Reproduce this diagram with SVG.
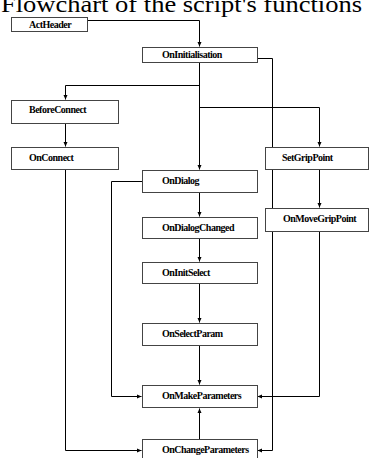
<svg xmlns="http://www.w3.org/2000/svg" width="369" height="458" viewBox="0 0 369 458">
<style>
.box{fill:#fff;stroke:#444;stroke-width:1}
.lbl{font-family:"Liberation Serif","Times New Roman",serif;font-weight:bold;font-size:10px;fill:#000;letter-spacing:-0.5px}
.title{font-family:"Liberation Serif","Times New Roman",serif;font-size:24px;fill:#000}
.ln{fill:none;stroke:#000;stroke-width:1}
</style>
<defs>
<marker id="ah" markerWidth="5" markerHeight="5" refX="4.5" refY="2.5" orient="auto" markerUnits="userSpaceOnUse">
<path d="M0,0.5 L4.5,2.5 L0,4.5 Z" fill="#000"/>
</marker>
</defs>
<rect width="369" height="458" fill="#fff"/>
<text class="title" x="1" y="12" textLength="361" lengthAdjust="spacingAndGlyphs">Flowchart of the script's functions</text>
<g id="connectors">
<path class="ln" d="M88,20.5 H199.5 V46.5" marker-end="url(#ah)"/>
<path class="ln" d="M257,58.5 H272.5 V450.5 H257.5" marker-end="url(#ah)"/>
<path class="ln" d="M199.5,62 V169.5" marker-end="url(#ah)"/>
<path class="ln" d="M199.5,85.5 H65.5 V99.5" marker-end="url(#ah)"/>
<path class="ln" d="M199.5,107.5 H319.5 V146.5" marker-end="url(#ah)"/>
<path class="ln" d="M65.5,124 V146.5" marker-end="url(#ah)"/>
<path class="ln" d="M65.5,170 V450.5 H141.5" marker-end="url(#ah)"/>
<path class="ln" d="M142,181.5 H111.5 V396.5 H141.5" marker-end="url(#ah)"/>
<path class="ln" d="M199.5,193 V216.5" marker-end="url(#ah)"/>
<path class="ln" d="M199.5,239 V261.5" marker-end="url(#ah)"/>
<path class="ln" d="M199.5,284 V322.5" marker-end="url(#ah)"/>
<path class="ln" d="M199.5,346 V384.5" marker-end="url(#ah)"/>
<path class="ln" d="M199.5,439 V408.5" marker-end="url(#ah)"/>
<path class="ln" d="M319.5,170 V207.5" marker-end="url(#ah)"/>
<path class="ln" d="M319.5,232 V396.5 H257.5" marker-end="url(#ah)"/>
</g>
<g id="ActHeader"><rect class="box" x="11.5" y="17.5" width="76" height="14"/><text class="lbl" x="29" y="28">ActHeader</text></g>
<g id="OnInitialisation"><rect class="box" x="142.5" y="47.5" width="115" height="15"/><text class="lbl" x="162" y="58">OnInitialisation</text></g>
<g id="BeforeConnect"><rect class="box" x="11.5" y="100.5" width="107" height="23"/><text class="lbl" x="29" y="113">BeforeConnect</text></g>
<g id="OnConnect"><rect class="box" x="11.5" y="147.5" width="107" height="22"/><text class="lbl" x="29" y="161">OnConnect</text></g>
<g id="SetGripPoint"><rect class="box" x="265.5" y="147.5" width="103" height="22"/><text class="lbl" x="282" y="161">SetGripPoint</text></g>
<g id="OnDialog"><rect class="box" x="142.5" y="170.5" width="115" height="22"/><text class="lbl" x="162" y="184">OnDialog</text></g>
<g id="OnMoveGripPoint"><rect class="box" x="265.5" y="208.5" width="103" height="23"/><text class="lbl" x="283" y="222">OnMoveGripPoint</text></g>
<g id="OnDialogChanged"><rect class="box" x="142.5" y="217.5" width="115" height="21"/><text class="lbl" x="162" y="231">OnDialogChanged</text></g>
<g id="OnInitSelect"><rect class="box" x="142.5" y="262.5" width="115" height="21"/><text class="lbl" x="162" y="276">OnInitSelect</text></g>
<g id="OnSelectParam"><rect class="box" x="142.5" y="323.5" width="115" height="22"/><text class="lbl" x="162" y="337">OnSelectParam</text></g>
<g id="OnMakeParameters"><rect class="box" x="142.5" y="385.5" width="115" height="22"/><text class="lbl" x="162" y="399">OnMakeParameters</text></g>
<g id="OnChangeParameters"><rect class="box" x="142.5" y="439.5" width="115" height="22"/><text class="lbl" x="162" y="453">OnChangeParameters</text></g>
</svg>
